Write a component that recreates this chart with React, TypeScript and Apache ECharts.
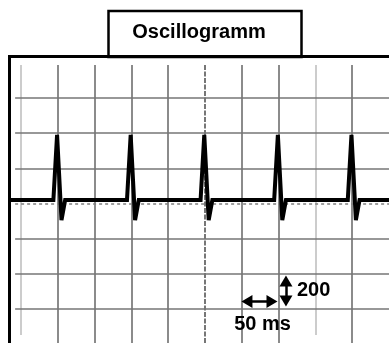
import React, { useEffect, useRef } from "react";
import * as echarts from "echarts";

// Time (ms) and amplitude of the trace
const traceTime = [-14, 44, 49, 55, 60, 144, 149, 155, 160, 244, 249, 255, 260, 344, 349, 355, 360, 444, 449, 455, 460, 500];
const traceValue = [20, 20, 390, -95, 20, 20, 390, -95, 20, 20, 390, -95, 20, 20, 390, -95, 20, 20, 390, -95, 20, 20];

// Grid divisions: 50 ms horizontally, 200 vertically
const vLines = [0, 50, 100, 150, 200, 250, 300, 350, 400, 450];
const hLines = [600, 400, 200, 0, -200, -400, -600];
const lightVLines = [0, 400];
const centerV = 250;
const centerH = 0;

const titleText = "Oscillogramm";
const timeScaleLabel = "50 ms";
const ampScaleLabel = "200";
const timeScale = { from: 307, to: 341, at: -557 };
const ampScale = { from: -440, to: -554, at: 360 };

const X_MIN = -13.6;
const X_MAX = 500;
const Y_MIN = -793;
const Y_MAX = 827;

const FONT = '"Liberation Sans", Arial, sans-serif';

export default function App() {
  const ref = useRef<HTMLDivElement>(null);
  useEffect(() => {
    if (!ref.current) return;
    const chart = echarts.init(ref.current, undefined, { renderer: "svg" });

    const gridMarks: any[] = [];
    vLines.forEach((x) => {
      let lineStyle: any = { color: "#6e6e6e", width: 1.6, type: "solid" };
      let yEnd = Y_MIN;
      if (lightVLines.includes(x)) {
        lineStyle = { color: "#cccccc", width: 2, type: "solid" };
        yEnd = -747;
      }
      if (x === centerV) lineStyle = { color: "#555", width: 1.6, type: [5, 1.5] };
      gridMarks.push([
        { coord: [x, 787], lineStyle },
        { coord: [x, yEnd] },
      ]);
    });
    hLines.forEach((y) => {
      let lineStyle: any = { color: "#767676", width: 1.6, type: "solid" };
      if (y === centerH) lineStyle = { color: "#808080", width: 1.6, type: [3, 3] };
      gridMarks.push([
        { coord: [-8, y], lineStyle },
        { coord: [X_MAX, y] },
      ]);
    });

    const traceData = traceTime.map((t, i) => [t, traceValue[i]]);

    chart.setOption({
      animation: false,
      grid: { left: 11, top: 58, right: 0, bottom: 0, show: false },
      xAxis: { type: "value", min: X_MIN, max: X_MAX, show: false },
      yAxis: { type: "value", min: Y_MIN, max: Y_MAX, show: false },
      series: [
        {
          type: "line",
          z: 1,
          data: [[X_MIN, 0]],
          showSymbol: false,
          lineStyle: { opacity: 0 },
          silent: true,
          markLine: {
            silent: true,
            symbol: "none",
            label: { show: false },
            data: gridMarks,
          },
        },
        {
          type: "line",
          z: 5,
          data: traceData,
          showSymbol: false,
          lineStyle: { color: "#000", width: 4, join: "miter", miterLimit: 4 },
          silent: true,
        },
        {
          type: "line",
          z: 6,
          data: [[X_MIN, 0]],
          showSymbol: false,
          lineStyle: { opacity: 0 },
          silent: true,
          markLine: {
            silent: true,
            symbol: ["triangle", "triangle"],
            symbolSize: [13, 11],
            label: { show: false },
            lineStyle: { color: "#000", width: 2.5, type: "solid" },
            data: [
              [{ coord: [timeScale.from, timeScale.at] }, { coord: [timeScale.to, timeScale.at] }],
              [{ coord: [ampScale.at, ampScale.from] }, { coord: [ampScale.at, ampScale.to] }],
            ],
          },
        },
      ],
      graphic: [
        {
          type: "rect",
          z: 20,
          shape: { x: 108.5, y: 11, width: 193, height: 46 },
          style: { fill: "#fff", stroke: "#000", lineWidth: 2.5 },
        },
        {
          type: "polyline",
          z: 21,
          shape: { points: [[9.5, 350], [9.5, 56.5], [395, 56.5]] },
          style: { fill: null, stroke: "#000", lineWidth: 3 },
        },
        {
          type: "text",
          z: 22,
          x: 199,
          y: 41,
          style: { text: titleText, font: `bold 20px ${FONT}`, fill: "#000", textAlign: "center", textVerticalAlign: "bottom" },
        },
        {
          type: "text",
          z: 22,
          x: 262.5,
          y: 333,
          style: { text: timeScaleLabel, font: `bold 20px ${FONT}`, fill: "#000", textAlign: "center", textVerticalAlign: "bottom" },
        },
        {
          type: "text",
          z: 22,
          x: 297,
          y: 299,
          style: { text: ampScaleLabel, font: `bold 20px ${FONT}`, fill: "#000", textAlign: "left", textVerticalAlign: "bottom" },
        },
      ],
    });
    return () => chart.dispose();
  }, []);
  return <div ref={ref} style={{ position: "fixed", left: 0, top: 0, width: 389, height: 343 }} />;
}
